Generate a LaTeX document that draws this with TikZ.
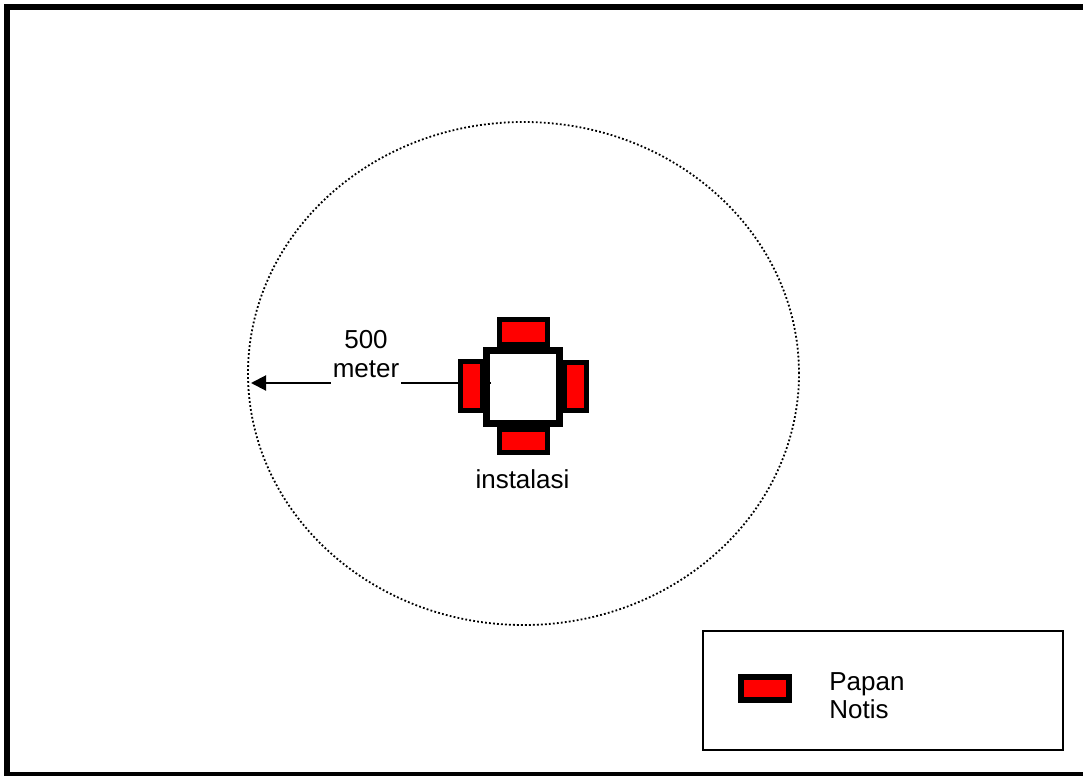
\documentclass[tikz,border=0pt]{standalone}
\usepackage{fontspec}
\setmainfont{Liberation Sans}
\usetikzlibrary{shapes.geometric,arrows.meta}
\begin{document}
\begin{tikzpicture}[x=0.5pt,y=-0.5pt,
  board/.style={draw=black,fill=red,rectangle,inner sep=0pt,line width=2.5pt},
  lbl/.style={font=\fontsize{13pt}{14.5pt}\selectfont,inner sep=0pt,text=black},
  zone/.style={draw=black,ellipse,inner sep=0pt,line width=0.9pt,dash pattern=on 0.9pt off 1.1pt},
]
\useasboundingbox (0,0) rectangle (1083,776);
\clip (0,0) rectangle (1083,776);
% outer frame
\draw[line width=3pt] (7,7) rectangle (1100,775);
% 500 m zone
\node[zone,minimum width=275.5pt,minimum height=251.5pt] (zone) at (523.5,373.5) {};
% installation square
\node[draw=black,fill=white,rectangle,inner sep=0pt,line width=3.5pt,minimum width=36.5pt,minimum height=36.5pt] (sq) at (523,387) {};
% radius arrow
\coordinate (arrstart) at (491,383);
\coordinate (tip) at (251,383);
\draw[line width=1pt,-{Triangle[length=7.5pt,width=7.5pt]}] (arrstart) -- (tip);
\node[lbl,anchor=base,fill=white,inner xsep=1pt,inner ysep=4pt] (tmeter) at (366,377) {meter};
\node[lbl,anchor=base] (t500) at (366,348) {500};
% notice boards
\node[board,minimum width=24pt,minimum height=12.5pt] (btop) at (523.5,332) {};
\node[board,minimum width=24pt,minimum height=11.5pt] (bbot) at (523.5,440.5) {};
\node[board,minimum width=11pt,minimum height=24.5pt] (bleft) at (471,386) {};
\node[board,minimum width=11pt,minimum height=24pt] (bright) at (575,386.5) {};
\node[lbl,anchor=base] (inst) at (522.5,488) {instalasi};
% legend
\node[draw=black,rectangle,inner sep=0pt,line width=0.8pt,minimum width=180pt,minimum height=59.5pt] (legend) at (883,690.5) {};
\node[draw=black,fill=red,rectangle,inner sep=0pt,line width=3pt,minimum width=24pt,minimum height=11.5pt] (lboard) at (765,688.5) {};
\node[lbl,anchor=base west] (papan) at (829,690) {Papan};
\node[lbl,anchor=base west] (notis) at (829,718) {Notis};
\end{tikzpicture}
\end{document}
